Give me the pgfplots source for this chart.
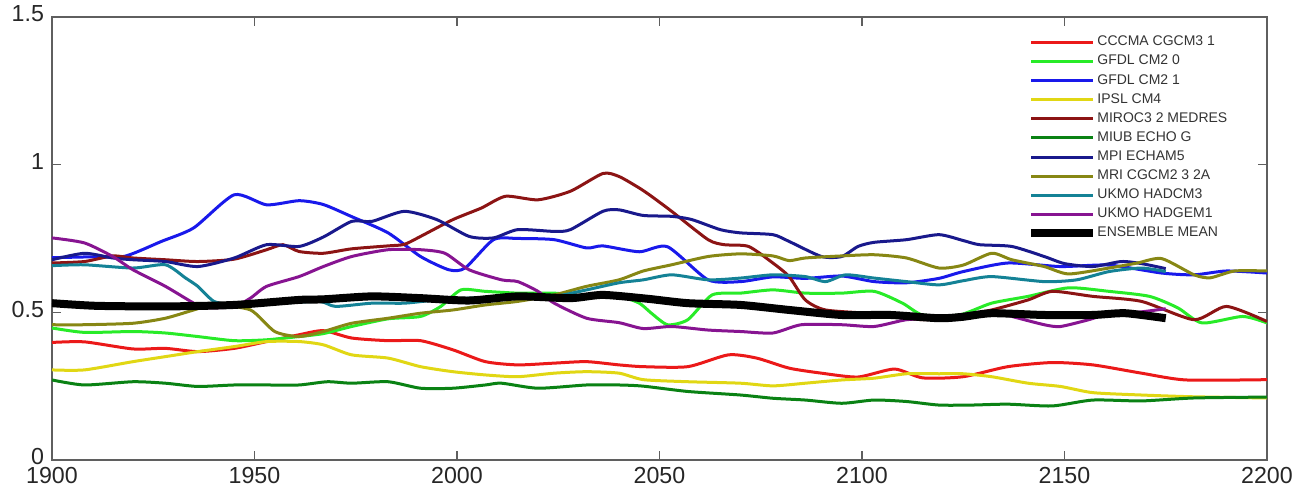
\documentclass[border=0pt]{standalone}
\usepackage{fontspec}
\setmainfont{Liberation Sans}
\usepackage{pgfplots}
\pgfplotsset{compat=1.18}

\definecolor{cccma}{RGB}{235,25,25}
\definecolor{gfdlzero}{RGB}{40,235,40}
\definecolor{gfdlone}{RGB}{25,25,235}
\definecolor{ipsl}{RGB}{225,215,20}
\definecolor{miroc}{RGB}{140,20,20}
\definecolor{miub}{RGB}{10,130,20}
\definecolor{mpi}{RGB}{25,25,140}
\definecolor{mri}{RGB}{135,135,20}
\definecolor{hadcm}{RGB}{20,130,150}
\definecolor{hadgem}{RGB}{135,20,145}
\definecolor{axisgray}{RGB}{95,95,95}

\begin{document}
\begin{tikzpicture}
\begin{axis}[
  scale only axis,
  width=607.5pt, height=221.5pt,
  xmin=1900, xmax=2200, ymin=0, ymax=1.5,
  xtick={1900,1950,...,2200},
  ytick={0,0.5,1,1.5},
  yticklabels={0,0.5,1,1.5},
  xticklabel style={/pgf/number format/1000 sep={}, inner sep=0pt, yshift=-3.5pt},
  yticklabel style={inner sep=0pt, xshift=-3.8pt, yshift=1.5pt},
  /pgf/number format/assume math mode=true,
  ticklabel style={font=\fontsize{11.6}{13}\selectfont, text=black!85},
  tick align=inside,
  major tick length=4.5pt,
  tick style={axisgray, line width=0.8pt},
  axis line style={axisgray, line width=0.9pt},
  clip=true,
  legend cell align=left,
  legend image code/.code={\draw[#1] (0pt,0pt) -- (31pt,0pt);},
  legend style={
    at={(0.8025,0.965)}, anchor=north west,
    draw=none, fill=none, inner sep=0pt, row sep=0pt,
    font=\fontsize{7}{8}\selectfont, text=black!80,
    nodes={inner sep=0pt, minimum height=9.55pt, anchor=west},
    /tikz/every odd column/.append style={column sep=0pt},
  },
  every axis plot/.append style={line width=1.5pt, smooth, tension=0.4},
]

% CCCMA CGCM3.1
\addplot[cccma] coordinates {
(1900,0.398)(1908,0.400)(1920,0.376)(1928,0.378)(1936,0.367)(1945,0.378)
(1953,0.401)(1961,0.424)(1967,0.438)(1974,0.413)(1983,0.404)(1991,0.404)
(1999,0.373)(2007,0.333)(2015,0.322)(2024,0.328)(2032,0.333)(2040,0.322)
(2046,0.316)(2057,0.316)(2067,0.356)(2074,0.345)(2082,0.311)(2090,0.294)
(2099,0.281)(2108,0.308)(2115,0.278)(2125,0.282)(2136,0.316)(2147,0.330)
(2157,0.322)(2169,0.294)(2180,0.271)(2200,0.272)};
\addlegendentry{CCCMA CGCM3 1}

% GFDL CM2.0
\addplot[gfdlzero] coordinates {
(1900,0.447)(1908,0.432)(1920,0.435)(1928,0.430)(1936,0.418)(1945,0.404)
(1953,0.407)(1961,0.418)(1967,0.428)(1974,0.452)(1983,0.478)(1991,0.486)
(1996,0.520)(2001,0.576)(2007,0.571)(2015,0.565)(2024,0.565)(2032,0.554)
(2040,0.554)(2045,0.531)(2048,0.497)(2052,0.458)(2057,0.475)(2063,0.559)
(2070,0.565)(2078,0.576)(2086,0.565)(2095,0.565)(2103,0.571)(2110,0.531)
(2115,0.491)(2124,0.491)(2132,0.531)(2141,0.554)(2151,0.583)(2161,0.571)
(2171,0.554)(2178,0.515)(2184,0.464)(2194,0.486)(2200,0.464)};
\addlegendentry{GFDL CM2 0}

% GFDL CM2.1
\addplot[gfdlone] coordinates {
(1900,0.685)(1910,0.688)(1918,0.690)(1927,0.740)(1935,0.786)(1945,0.898)
(1953,0.864)(1961,0.878)(1967,0.865)(1974,0.824)(1983,0.769)(1991,0.689)
(1998,0.644)(2002,0.650)(2009,0.746)(2015,0.750)(2024,0.746)(2032,0.718)
(2036,0.725)(2045,0.705)(2052,0.722)(2062,0.610)(2070,0.604)(2078,0.620)
(2086,0.615)(2095,0.623)(2103,0.604)(2111,0.600)(2119,0.615)(2125,0.638)
(2136,0.667)(2149,0.655)(2161,0.660)(2174,0.633)(2182,0.627)(2190,0.640)
(2200,0.633)};
\addlegendentry{GFDL CM2 1}

% IPSL CM4
\addplot[ipsl] coordinates {
(1900,0.305)(1908,0.305)(1920,0.333)(1928,0.350)(1936,0.367)(1945,0.384)
(1953,0.401)(1961,0.401)(1967,0.390)(1974,0.356)(1983,0.345)(1991,0.316)
(1999,0.299)(2007,0.288)(2015,0.282)(2024,0.294)(2032,0.299)(2040,0.294)
(2046,0.272)(2057,0.265)(2070,0.260)(2078,0.251)(2086,0.260)(2095,0.271)
(2103,0.277)(2111,0.292)(2119,0.292)(2125,0.292)(2132,0.282)(2141,0.260)
(2149,0.249)(2157,0.228)(2169,0.220)(2182,0.214)(2200,0.210)};
\addlegendentry{IPSL CM4}

% MIROC3.2 MEDRES
\addplot[miroc] coordinates {
(1900,0.667)(1908,0.672)(1915,0.691)(1920,0.684)(1928,0.678)(1936,0.672)
(1945,0.680)(1953,0.712)(1957,0.729)(1961,0.706)(1967,0.700)(1974,0.715)
(1983,0.725)(1987,0.730)(1991,0.757)(1999,0.814)(2006,0.853)(2012,0.893)
(2020,0.881)(2028,0.910)(2036,0.970)(2040,0.960)(2045,0.921)(2048,0.893)
(2053,0.842)(2062,0.746)(2066,0.729)(2072,0.723)(2078,0.667)(2082,0.621)
(2086,0.542)(2091,0.508)(2103,0.495)(2115,0.475)(2124,0.488)(2132,0.508)
(2141,0.542)(2147,0.571)(2157,0.554)(2169,0.537)(2182,0.475)(2190,0.520)
(2200,0.469)};
\addlegendentry{MIROC3 2 MEDRES}

% MIUB ECHO-G
\addplot[miub] coordinates {
(1900,0.271)(1908,0.254)(1920,0.265)(1928,0.260)(1936,0.249)(1945,0.254)
(1953,0.254)(1961,0.254)(1968,0.265)(1974,0.260)(1983,0.265)(1991,0.243)
(1999,0.243)(2007,0.254)(2011,0.260)(2020,0.243)(2032,0.254)(2040,0.254)
(2046,0.250)(2057,0.232)(2070,0.220)(2078,0.209)(2086,0.203)(2095,0.192)
(2103,0.203)(2111,0.198)(2119,0.186)(2127,0.186)(2136,0.189)(2147,0.183)
(2157,0.203)(2169,0.200)(2182,0.210)(2200,0.213)};
\addlegendentry{MIUB ECHO G}

% MPI ECHAM5
\addplot[mpi] coordinates {
(1900,0.678)(1908,0.700)(1915,0.684)(1920,0.678)(1928,0.672)(1936,0.655)
(1945,0.684)(1953,0.729)(1961,0.723)(1967,0.755)(1974,0.808)(1979,0.808)
(1987,0.842)(1995,0.814)(2003,0.757)(2009,0.752)(2015,0.780)(2024,0.774)
(2028,0.780)(2036,0.842)(2040,0.847)(2046,0.828)(2053,0.825)(2058,0.814)
(2065,0.780)(2070,0.769)(2078,0.763)(2082,0.740)(2090,0.689)(2095,0.689)
(2099,0.723)(2103,0.737)(2111,0.746)(2119,0.763)(2125,0.743)(2129,0.729)
(2137,0.723)(2145,0.689)(2150,0.665)(2157,0.655)(2164,0.672)(2169,0.665)
(2175,0.648)};
\addlegendentry{MPI ECHAM5}

% MRI CGCM2.3.2A
\addplot[mri] coordinates {
(1900,0.458)(1908,0.458)(1920,0.463)(1928,0.480)(1935,0.508)(1940,0.525)
(1949,0.508)(1955,0.435)(1961,0.418)(1967,0.435)(1974,0.463)(1983,0.480)
(1991,0.497)(1999,0.508)(2007,0.525)(2015,0.537)(2024,0.559)(2032,0.588)
(2040,0.610)(2046,0.640)(2053,0.661)(2062,0.689)(2070,0.698)(2078,0.691)
(2082,0.675)(2086,0.684)(2095,0.691)(2103,0.695)(2111,0.684)(2119,0.650)
(2125,0.660)(2132,0.700)(2137,0.678)(2145,0.655)(2151,0.630)(2161,0.650)
(2168,0.667)(2174,0.682)(2182,0.627)(2186,0.617)(2192,0.640)(2200,0.640)};
\addlegendentry{MRI CGCM2 3 2A}

% UKMO HadCM3
\addplot[hadcm] coordinates {
(1900,0.658)(1908,0.661)(1920,0.650)(1928,0.661)(1933,0.616)(1936,0.588)
(1940,0.537)(1945,0.525)(1955,0.530)(1966,0.537)(1970,0.520)(1979,0.531)
(1987,0.531)(1995,0.542)(2003,0.548)(2015,0.554)(2024,0.554)(2032,0.576)
(2040,0.600)(2046,0.610)(2053,0.627)(2062,0.610)(2070,0.616)(2078,0.627)
(2086,0.621)(2091,0.604)(2096,0.627)(2103,0.616)(2111,0.604)(2119,0.593)
(2125,0.607)(2132,0.621)(2145,0.604)(2153,0.610)(2161,0.638)(2169,0.650)
(2175,0.638)};
\addlegendentry{UKMO HADCM3}

% UKMO HadGEM1
\addplot[hadgem] coordinates {
(1900,0.752)(1908,0.735)(1915,0.689)(1920,0.644)(1928,0.588)(1935,0.531)
(1938,0.515)(1945,0.520)(1949,0.548)(1953,0.588)(1961,0.621)(1967,0.655)
(1974,0.689)(1983,0.712)(1991,0.712)(1997,0.700)(2003,0.644)(2011,0.610)
(2015,0.604)(2020,0.571)(2024,0.531)(2032,0.480)(2040,0.465)(2046,0.445)
(2053,0.452)(2062,0.440)(2070,0.435)(2078,0.430)(2085,0.458)(2095,0.458)
(2103,0.452)(2111,0.475)(2119,0.480)(2124,0.491)(2132,0.503)(2137,0.486)
(2145,0.458)(2149,0.452)(2156,0.475)(2160,0.491)(2168,0.500)(2175,0.512)};
\addlegendentry{UKMO HADGEM1}

% Ensemble mean
\addplot[black, line width=4pt] coordinates {
(1900,0.531)(1911,0.522)(1928,0.520)(1945,0.525)(1961,0.542)(1967,0.544)
(1979,0.554)(1991,0.548)(2003,0.540)(2015,0.554)(2028,0.548)(2036,0.559)
(2047,0.546)(2057,0.531)(2070,0.525)(2082,0.508)(2095,0.491)(2107,0.491)
(2119,0.480)(2125,0.485)(2132,0.497)(2145,0.491)(2157,0.491)(2165,0.497)
(2175,0.480)};
\addlegendentry{ENSEMBLE MEAN}

\end{axis}
\pgfresetboundingbox
\path[use as bounding box] (-26pt,-13pt) rectangle (620pt,230pt);
\end{tikzpicture}
\end{document}
